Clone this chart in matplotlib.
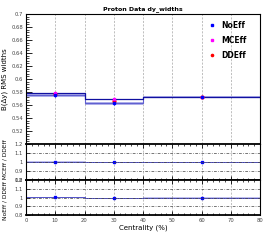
import numpy as np
import matplotlib
matplotlib.use("Agg")
from matplotlib import pyplot as plt
from matplotlib.ticker import MultipleLocator

# bins in centrality (%)
bin_edges = [0, 20, 40, 80]
bin_centers = [10, 30, 60]

# RMS widths per bin
noeff = [0.5755, 0.5625, 0.5725]
mceff = [0.5780, 0.5690, 0.5730]
ddeff = [0.5765, 0.5660, 0.5725]
noeff_err = [0.0025, 0.0025, 0.0015]
mceff_err = [0.0025, 0.0025, 0.0015]
ddeff_err = [0.0025, 0.0025, 0.0015]

# ratio panels
ratio_top = [1.004, 0.996, 1.000]
ratio_bot = [1.004, 0.993, 1.000]
ratio_err = [0.003, 0.003, 0.002]

series_names = ['NoEff', 'MCEff', 'DDEff']

plt.rcParams['font.family'] = ['DejaVu Sans']

fig = plt.figure(figsize=(2.66, 2.40), dpi=100)
ax = fig.add_axes([0.0977, 0.40, 0.880, 0.5417])
ax_r1 = fig.add_axes([0.0977, 0.25, 0.880, 0.15])
ax_r2 = fig.add_axes([0.0977, 0.104, 0.880, 0.146])


def step_line(a, vals, **kw):
    xs, ys = [], []
    for i, v in enumerate(vals):
        xs += [bin_edges[i], bin_edges[i + 1]]
        ys += [v, v]
    a.plot(xs, ys, **kw)


def band(a, vals, errs, **kw):
    for i, v in enumerate(vals):
        a.fill_between([bin_edges[i], bin_edges[i + 1]], v - errs[i], v + errs[i], lw=0, **kw)


# main panel
band(ax, noeff, noeff_err, color='#8080e0', alpha=0.6)
step_line(ax, noeff, color='#6060d0', lw=0.8)
step_line(ax, mceff, color='#1010a0', lw=0.9)
ax.errorbar(bin_centers, ddeff, yerr=ddeff_err, fmt='o', ms=2.0, color='red', elinewidth=0.7, capsize=0, label='DDEff')
ax.errorbar(bin_centers, mceff, yerr=mceff_err, fmt='s', ms=2.0, color='magenta', elinewidth=0.7, capsize=0, label='MCEff')
ax.errorbar(bin_centers, noeff, yerr=noeff_err, fmt='s', ms=2.0, color='blue', elinewidth=0.7, capsize=0, label='NoEff')

ax.set_xlim(0, 80)
ax.set_ylim(0.5, 0.7)
ax.yaxis.set_minor_locator(MultipleLocator(0.004))
ax.set_yticks([0.52, 0.54, 0.56, 0.58, 0.6, 0.62, 0.64, 0.66, 0.68, 0.7])
ax.set_yticklabels(['0.52', '0.54', '0.56', '0.58', '0.6', '0.62', '0.64', '0.66', '0.68', '0.7'])
ax.set_xticks(range(0, 81, 10))
ax.tick_params(axis='x', labelbottom=False, length=0)
ax.tick_params(axis='y', which='major', direction='in', length=4, width=0.6, labelsize=3.8,
               pad=2, labelcolor='#444444')
ax.tick_params(axis='y', which='minor', direction='in', length=2, width=0.5)
ax.grid(axis='x', color='gray', ls=(0, (3, 2)), lw=0.5, alpha=0.7)
ax.set_ylabel('B(Δy) RMS widths', fontsize=5, labelpad=2)
ax.yaxis.set_label_coords(-0.075, 0.5)
ax.set_title('Proton Data dy_widths', fontsize=4.5, fontweight='bold', pad=3)
handles, labels = ax.get_legend_handles_labels()
order = [labels.index(n) for n in series_names]
leg = ax.legend([handles[i][0] for i in order], [labels[i] for i in order], loc='upper right',
                frameon=False, fontsize=5.5, handlelength=0.8, handletextpad=0.8,
                labelspacing=0.8, markerscale=0.8, bbox_to_anchor=(0.97, 1.0))
for t in leg.get_texts():
    t.set_fontweight('bold')
for s in ax.spines.values():
    s.set_linewidth(0.8)


def ratio_panel(a, vals, show_x):
    band(a, vals, ratio_err, color='#8080e0', alpha=0.5)
    step_line(a, vals, color='#5050c8', lw=0.7)
    a.plot(bin_centers, vals, 's', ms=2.0, color='blue')
    a.set_xlim(0, 80)
    a.set_ylim(0.8, 1.2)
    a.set_yticks([0.8, 0.9, 1.0, 1.1, 1.2])
    a.set_yticklabels(['0.8', '0.9', '1', '1.1', '1.2'])
    a.xaxis.set_minor_locator(MultipleLocator(2))
    a.set_xticks(range(0, 81, 10))
    a.tick_params(axis='both', which='major', length=3, width=0.6, labelsize=3.8, pad=2,
                  top=True, direction='in', labelcolor='#444444')
    a.tick_params(axis='x', which='minor', length=1.5, width=0.5, top=True, direction='in')
    a.tick_params(axis='x', labelbottom=show_x)
    for yv in [0.9, 1.0, 1.1]:
        a.axhline(yv, color='#404040', ls=(0, (4, 2, 1, 2)), lw=0.5)
    a.grid(axis='x', color='gray', ls=(0, (3, 2)), lw=0.5, alpha=0.7)
    for s in a.spines.values():
        s.set_linewidth(0.8)
    a.spines['top'].set_linewidth(1.3)
    a.spines['bottom'].set_linewidth(1.3)


ratio_panel(ax_r1, ratio_top, False)
ratio_panel(ax_r2, ratio_bot, True)
ax_r2.set_xlabel('Centrality (%)', fontsize=5, labelpad=1)
fig.text(0.02, 0.25, 'NoEff / DDEff MCEff / DDEff', rotation=90, fontsize=4.2,
         ha='center', va='center')

fig.savefig('out.png', dpi=100)
